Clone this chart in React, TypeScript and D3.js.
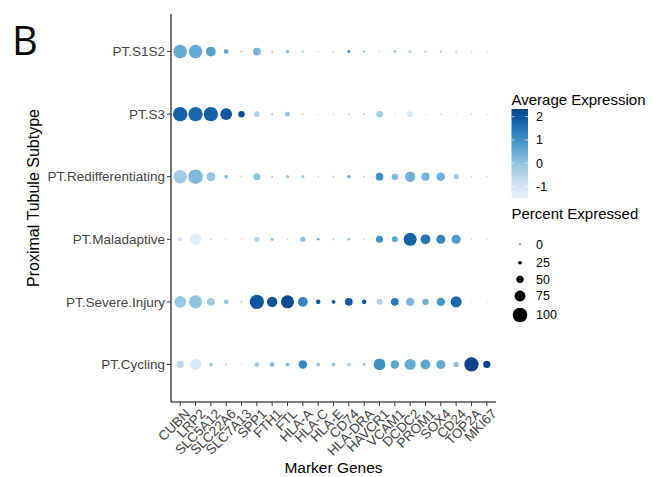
import React from "react";
import * as d3 from "d3";

const genes = ["CUBN","LRP2","SLC5A12","SLC22A6","SLC7A13","SPP1","FTH1","FTL","HLA-A","HLA-C","HLA-E","CD74","HLA-DRA","HAVCR1","VCAM1","DCDC2","PROM1","SOX4","CD24","TOP2A","MKI67"];
const subtypes = ["PT.S1S2","PT.S3","PT.Redifferentiating","PT.Maladaptive","PT.Severe.Injury","PT.Cycling"];

// percent expressed per subtype (rows) x gene (cols)
const pctS1S2 = [93,93,67,33,11,53,13,22,15,11,13,22,13,20,18,24,15,15,13,11,9];
const pctS3 = [98,98,98,80,44,40,13,33,11,9,9,11,11,44,9,40,9,9,9,9,9];
const pctRedif = [93,100,62,27,11,49,13,22,22,11,13,22,13,53,44,71,56,58,36,9,9];
const pctMalad = [27,76,13,9,9,36,22,11,36,18,13,18,11,49,40,89,67,62,62,9,9];
const pctSevere = [80,89,53,31,13,98,71,89,67,31,27,53,31,40,53,58,44,58,76,9,9];
const pctCycling = [49,76,27,13,9,31,31,27,58,27,27,27,22,80,58,76,67,62,36,98,49];

// average expression (scaled)
const avgS1S2 = [0.5,0.5,0.7,0.6,0.3,0.3,0.0,0.2,-0.2,-0.3,-0.3,0.8,0.2,-1.3,-0.2,-0.8,-0.2,-0.2,-0.2,-0.3,-0.3];
const avgS3 = [1.8,1.7,1.8,2.0,2.2,-0.4,0.0,0.0,-0.3,-0.3,-0.3,-0.1,-0.1,-0.2,-0.4,-1.0,-0.4,-0.3,-0.3,-0.3,-0.3];
const avgRedif = [-0.2,0.2,-0.1,0.0,-0.2,0.0,-0.3,-0.1,-0.2,-0.4,-0.3,0.5,-0.3,1.0,0.2,0.4,0.3,0.4,-0.2,-0.4,-0.4];
const avgMalad = [-0.9,-1.3,-0.6,-0.6,-0.5,-0.5,0.0,-0.4,0.0,0.5,-0.3,0.0,-0.4,1.0,0.6,1.8,1.5,1.2,0.8,-0.5,-0.5];
const avgSevere = [-0.1,0.0,-0.2,0.0,0.0,2.0,2.1,2.2,1.2,2.0,2.0,1.9,2.1,-0.3,1.4,0.2,0.4,0.9,1.7,-0.5,-0.5];
const avgCycling = [-0.6,-1.1,-0.3,-0.3,-0.5,-0.1,0.3,0.1,1.2,-0.1,-0.1,-0.4,-0.2,1.0,0.6,0.5,0.6,0.5,0.1,2.3,2.3];

const pctRows = [pctS1S2, pctS3, pctRedif, pctMalad, pctSevere, pctCycling];
const avgRows = [avgS1S2, avgS3, avgRedif, avgMalad, avgSevere, avgCycling];

const colorTicks = [2, 1, 0, -1];
const sizeTicks = [0, 25, 50, 75, 100];

const FONT = "Liberation Sans, Arial, sans-serif";

export default function App() {
  const W = 655, H = 477;
  const left = 171, right = 496, top = 14, bottom = 402;

  const x = d3.scalePoint<string>().domain(genes).range([left, right]).padding(0.6);
  const y = d3.scalePoint<string>().domain(subtypes).range([top, bottom]).padding(0.6);
  const r = d3.scaleLinear().domain([0, 100]).range([0, 7.3]);
  const cMin = -1.5, cMax = 2.33;
  const color = d3.scaleSequential((t: number) => d3.interpolateBlues(0.07 + 0.86 * t)).domain([cMin, cMax]);

  const cells: any[] = [];
  subtypes.forEach((s, i) => {
    genes.forEach((g, j) => {
      cells.push({ s, g, p: pctRows[i][j], a: avgRows[i][j] });
    });
  });

  // legend
  const barX = 511.5, barW = 16.5, barTop = 109, barBot = 198;
  const cy = d3.scaleLinear().domain([cMin, cMax]).range([barBot, barTop]);
  const stops = d3.range(0, 1.0001, 0.05);

  const sizeY = [244.3, 262.7, 279.3, 296, 315];

  return (
    <svg width={W} height={H} style={{ position: "absolute", left: 0, top: 0 }} fontFamily={FONT}>
      <rect width={W} height={H} fill="#fff" />
      <text x={12} y={55} fontSize={40} fill="#000" fontFamily="Open Sans, Liberation Sans, sans-serif">B</text>

      {cells.map((c, k) => (
        <circle key={k} cx={x(c.g)} cy={y(c.s)} r={Math.max(0.7, r(c.p))} fill={color(c.a)} />
      ))}

      {/* axes */}
      <line x1={left} x2={left} y1={top} y2={bottom} stroke="#000" strokeWidth={1.1} />
      <line x1={left} x2={right} y1={bottom} y2={bottom} stroke="#000" strokeWidth={1.1} />
      {subtypes.map(s => (
        <g key={s}>
          <line x1={left - 4} x2={left} y1={y(s)} y2={y(s)} stroke="#333" />
          <text x={left - 6} y={y(s)} dy="0.35em" textAnchor="end" fontSize={13.5} fill="#444">{s}</text>
        </g>
      ))}
      {genes.map(g => (
        <g key={g}>
          <line x1={x(g)} x2={x(g)} y1={bottom} y2={bottom + 4} stroke="#333" />
          <text transform={`translate(${(x(g) as number) + 4},${bottom + 6}) rotate(-45)`} textAnchor="end" dy="0.7em" fontSize={13.5} fill="#444">{g}</text>
        </g>
      ))}
      <text x={(left + right) / 2} y={473} textAnchor="middle" fontSize={15.5} fill="#000">Marker Genes</text>
      <text transform={`translate(39,198) rotate(-90)`} textAnchor="middle" fontSize={16} fill="#000">Proximal Tubule Subtype</text>

      {/* color legend */}
      <text x={barX} y={105} fontSize={15} fill="#000">Average Expression</text>
      <defs>
        <linearGradient id="cbar" x1="0" y1="1" x2="0" y2="0">
          {stops.map(t => (
            <stop key={t} offset={t} stopColor={color(cMin + t * (cMax - cMin))} />
          ))}
        </linearGradient>
      </defs>
      <rect x={barX} y={barTop} width={barW} height={barBot - barTop} fill="url(#cbar)" />
      {colorTicks.map(t => (
        <g key={t}>
          <line x1={barX} x2={barX + 3} y1={cy(t)} y2={cy(t)} stroke="#fff" strokeOpacity={0.7} />
          <line x1={barX + barW - 3} x2={barX + barW} y1={cy(t)} y2={cy(t)} stroke="#fff" strokeOpacity={0.7} />
          <text x={536} y={cy(t)} dy="0.35em" fontSize={12.5} fill="#000">{t}</text>
        </g>
      ))}

      {/* size legend */}
      <text x={barX} y={219} fontSize={15} fill="#000">Percent Expressed</text>
      {sizeTicks.map((t, i) => (
        <g key={t}>
          <circle cx={520} cy={sizeY[i]} r={Math.max(0.7, r(t))} fill="#000" />
          <text x={536} y={sizeY[i]} dy="0.35em" fontSize={12.5} fill="#000">{t}</text>
        </g>
      ))}
    </svg>
  );
}
